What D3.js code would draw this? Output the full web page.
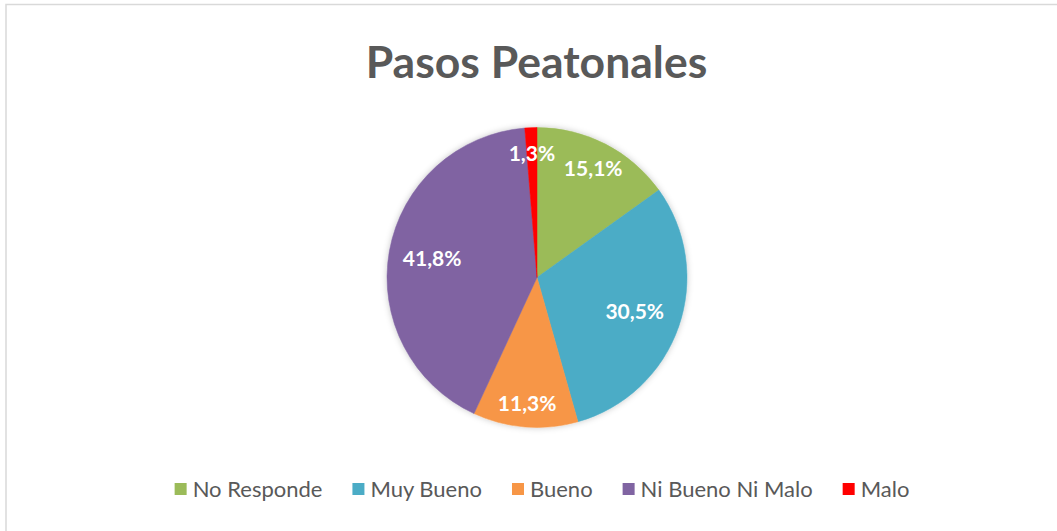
<!DOCTYPE html>
<html>
<head>
<meta charset="utf-8">
<script src="https://cdn.jsdelivr.net/npm/d3@7"></script>
<style>
  html, body { margin: 0; padding: 0; background: #fff; }
  svg { display: block; }
</style>
</head>
<body>
<svg id="chart" width="1057" height="531"></svg>
<script>
// Survey results: "Pasos Peatonales"
const categories = ["No Responde", "Muy Bueno", "Bueno", "Ni Bueno Ni Malo", "Malo"];
const values = [15.1, 30.5, 11.3, 41.8, 1.3];
const colors = ["#9BBB59", "#4BACC6", "#F79646", "#8064A2", "#FF0000"];
const title = "Pasos Peatonales";

// label distance from the centre, as a share of the radius, per slice
const labelRadius = [0.82, 0.69, 0.84, 0.71, 0.83];

const W = 1057, H = 531;
const cx = 537, cy = 277.5, R = 150;
const fontFamily = "Lato, 'Open Sans', 'DejaVu Sans', sans-serif";

const svg = d3.select("#chart");

// frame
svg.append("rect")
  .attr("x", 6).attr("y", 4.5)
  .attr("width", W + 10).attr("height", H + 10)
  .attr("fill", "#fff")
  .attr("stroke", "#d9d9d9").attr("stroke-width", 1.5);

// soft shadow under the pie
const defs = svg.append("defs");
const f = defs.append("filter").attr("id", "pieShadow")
  .attr("x", "-20%").attr("y", "-20%").attr("width", "140%").attr("height", "140%");
f.append("feDropShadow").attr("dx", 0).attr("dy", 0)
  .attr("stdDeviation", 3).attr("flood-color", "#000").attr("flood-opacity", 0.22);

// title
svg.append("text")
  .attr("x", 536.5).attr("y", 78)
  .attr("text-anchor", "middle")
  .attr("font-family", fontFamily)
  .attr("font-weight", 700)
  .attr("font-size", 44.5)
  .attr("fill", "#595959")
  .text(title);

// pie
const data = categories.map((c, i) => ({ cat: c, value: values[i], i }));
const pie = d3.pie().value(d => d.value).sort(null);
const arcs = pie(data);
const arc = d3.arc().innerRadius(0).outerRadius(R);
const color = d3.scaleOrdinal().domain(categories).range(colors);

const g = svg.append("g").attr("transform", `translate(${cx},${cy})`);
g.append("g").attr("filter", "url(#pieShadow)")
  .selectAll("path")
  .data(arcs)
  .join("path")
  .attr("d", arc)
  .attr("fill", d => color(d.data.cat))
  .attr("stroke", d => color(d.data.cat))
  .attr("stroke-width", 0.5);

const fmt = v => v.toFixed(1).replace(".", ",") + "%";
g.selectAll("text.lbl")
  .data(arcs)
  .join("text")
  .attr("class", "lbl")
  .attr("transform", d => {
    const a = (d.startAngle + d.endAngle) / 2;
    const r = R * labelRadius[d.data.i];
    return `translate(${Math.sin(a) * r},${-Math.cos(a) * r})`;
  })
  .attr("text-anchor", "middle")
  .attr("dy", "0.36em")
  .attr("font-family", fontFamily)
  .attr("font-weight", 700)
  .attr("font-size", 21)
  .attr("fill", "#fff")
  .text(d => fmt(d.data.value));

// legend
const legend = svg.append("g");
const sw = 12, gapSwatch = 6, gapItem = 30, legendY = 489;
const items = legend.selectAll("g").data(categories).join("g");
items.append("rect")
  .attr("width", sw).attr("height", sw)
  .attr("y", legendY - sw / 2)
  .attr("fill", d => color(d));
items.append("text")
  .attr("x", sw + gapSwatch)
  .attr("y", legendY)
  .attr("dy", "0.35em")
  .attr("font-family", fontFamily)
  .attr("font-size", 22)
  .attr("fill", "#595959")
  .text(d => d);
let widths = [];
items.each(function() {
  widths.push(sw + gapSwatch + d3.select(this).select("text").node().getComputedTextLength());
});
const total = d3.sum(widths) + gapItem * (widths.length - 1);
let x0 = 542 - total / 2;
items.attr("transform", (d, i) => {
  const x = x0;
  x0 += widths[i] + gapItem;
  return `translate(${x},0)`;
});
</script>
</body>
</html>
